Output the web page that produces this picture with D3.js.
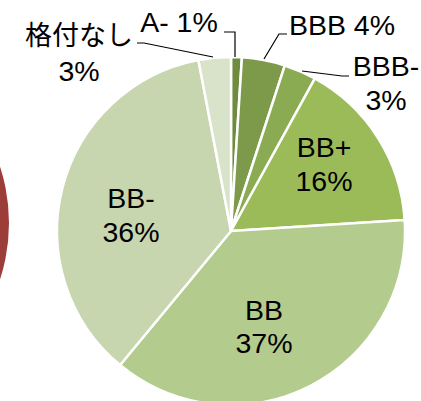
<!DOCTYPE html>
<html lang="ja">
<head>
  <meta charset="UTF-8">
  <title>格付別構成比</title>
  <script src="https://d3js.org/d3.v7.min.js"></script>
  <style>
    body {
      margin: 0;
      background: #fff;
      overflow: hidden;
    }
    svg {
      display: block;
      font-family: "Liberation Sans", Arial, "Noto Sans CJK JP", sans-serif;
    }
  </style>
</head>
<body>
<svg width="421" height="401"></svg>

<script>
  // slices, clockwise from 12 o'clock
  const ratings = ["A-", "BBB", "BBB-", "BB+", "BB", "BB-", "格付なし"];
  const shares  = [1, 4, 3, 16, 37, 36, 3];
  const colors  = ["#6f8b3d", "#7c9a49", "#8aab52", "#9bbb59", "#b3cb8c", "#c7d6ae", "#d9e3c9"];

  // neighbouring chart, only its right edge shows
  const neighbourShares = [100];

  const svg = d3.select("svg");
  const cx = 231, cy = 231, r = 174;

  // cut-off pie on the left
  const neighbour = svg.append("g").attr("transform", "translate(-173,223)");
  neighbour.selectAll("path")
    .data(d3.pie().sort(null)(neighbourShares))
    .join("path")
    .attr("d", d3.arc().innerRadius(0).outerRadius(182))
    .attr("fill", "#9d3d39");

  const pie = d3.pie().sort(null).value(d => d)(shares);
  const arc = d3.arc().innerRadius(0).outerRadius(r);

  const g = svg.append("g").attr("transform", `translate(${cx},${cy})`);

  g.selectAll("path")
    .data(pie)
    .join("path")
    .attr("d", arc)
    .attr("fill", (d, i) => colors[i])
    .attr("stroke", "#fff")
    .attr("stroke-width", 2.5)
    .attr("stroke-linejoin", "round");

  // label placement (two lines: name / percent) and leader lines
  const labelSpots = [
    { x: 179, y: 32, oneLine: true, leader: [[224, 32], [235, 32], [235, 57]] },
    { x: 342, y: 35, oneLine: true, leader: [[287, 34], [279, 34], [264, 59]] },
    { x: 386, y: 76, y2: 110, leader: [[349, 76], [342, 76], [302, 71]] },
    { x: 324, y: 157, y2: 191 },
    { x: 264, y: 320, y2: 353 },
    { x: 131, y: 208, y2: 242 },
    { x: 79, y: 45, y2: 81, cjk: true, leader: [[137, 43], [144, 43], [213, 57]] }
  ];

  const line = d3.line();

  labelSpots.forEach((s, i) => {
    if (s.leader) {
      svg.append("path")
        .attr("d", line(s.leader))
        .attr("fill", "none")
        .attr("stroke", "#000")
        .attr("stroke-width", 1.2);
    }
    const pct = d3.format(".0f")(shares[i]) + "%";
    const t = svg.append("text")
      .attr("text-anchor", "middle")
      .attr("font-size", 28.5)
      .attr("fill", "#000");
    if (s.oneLine) {
      t.attr("x", s.x).attr("y", s.y).text(ratings[i] + " " + pct);
    } else {
      t.append("tspan").attr("x", s.x).attr("y", s.y)
        .attr("font-size", s.cjk ? 27 : null)
        .text(ratings[i]);
      t.append("tspan").attr("x", s.x).attr("y", s.y2).text(pct);
    }
  });
</script>
</body>
</html>
